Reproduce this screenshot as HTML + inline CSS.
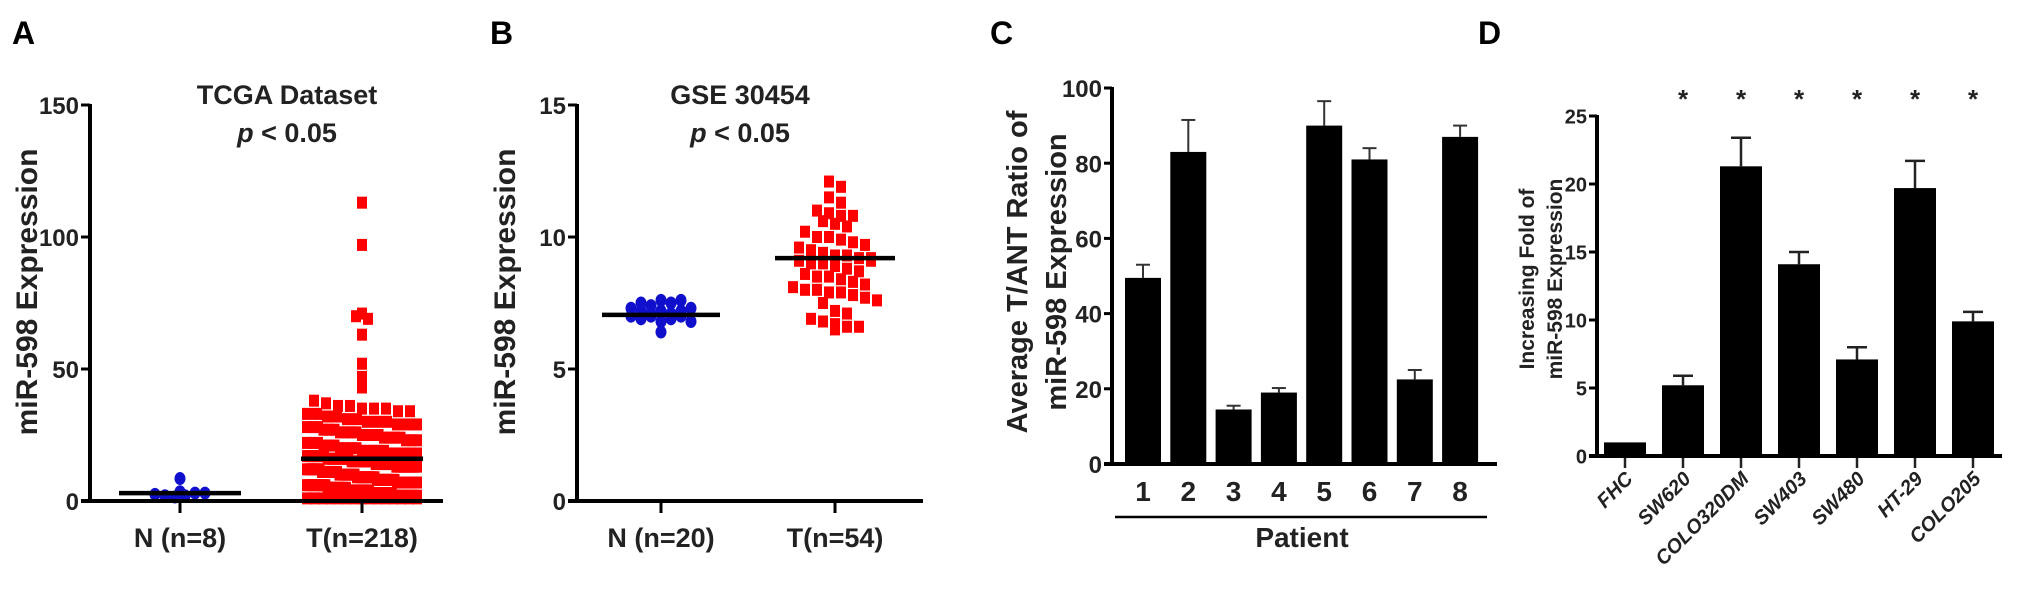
<!DOCTYPE html>
<html><head><meta charset="utf-8"><style>
html,body{margin:0;padding:0;background:#fff;}
svg{display:block;font-family:"Liberation Sans",Arial,sans-serif;font-weight:bold;}
</style></head><body>
<svg id="fig" width="2017" height="614" viewBox="0 0 2017 614" xmlns="http://www.w3.org/2000/svg">
<rect width="2017" height="614" fill="#fff"/>
<text x="12" y="44" font-size="32">A</text>
<text x="490" y="44" font-size="32">B</text>
<text x="990" y="44" font-size="32">C</text>
<text x="1478" y="44" font-size="32">D</text>
<g id="pa"></g>
<g id="pb"></g>
<g id="pc"></g>
<g id="pd"></g>
</svg>
<script>
// Panel A data
const aGroups = ["N (n=8)", "T(n=218)"];
const aNormal = [3.5, 2.5, 2, 1.5, 2, 8.5, 3, 3];
const aTumor = [113,97,70,69,71,63,52,47,43,
 38,37,36,36,35,35,35,34,34,33,33,32,32,31,31,30,
 30,30,29,29,29,28,28,28,27,27,27,26,26,26,26,25,25,25,25,24,24,24,24,23,23,23,22,22,22,21,21,21,20,20,20,20,
 19,19,19,19,19,18,18,18,18,18,18,17,17,17,17,17,17,16,16,16,16,16,16,16,15,15,15,15,15,15,15,14,14,14,14,14,14,13,13,13,13,13,13,13,12,12,12,12,12,12,11,11,11,11,11,11,11,10,10,10,10,10,10,10,
 9,9,9,9,9,9,9,9,8,8,8,8,8,8,8,8,7,7,7,7,7,7,7,7,7,6,6,6,6,6,6,6,6,6,5,5,5,5,5,5,5,5,5,4,4,4,4,4,4,4,4,4,4,3,3,3,3,3,3,3,3,3,3,2,2,2,2,2,2,2,2,2,2,2,1,1,1,1,1,1,1,1,1,1,1,1,1,1,1];
const aMedians = [3, 16];
const aTicks = [0, 50, 100, 150];
// Panel B data
const bGroups = ["N (n=20)", "T(n=54)"];
const bNormal = [7.3,7.2,7.0,6.9,7.1,7.5,7.4,7.6,7.5,7.0,6.8,6.4,7.2,7.6,6.9,7.0,7.1,6.8,7.2,7.3];
const bTumor = [12.1,11.9,11.5,11.3,11.0,10.9,10.8,10.8,10.6,10.5,10.4,10.2,10.0,10.0,9.9,9.8,9.7,9.6,9.5,9.4,9.3,9.3,9.2,9.2,9.1,9.0,9.0,8.9,8.8,8.7,8.6,8.5,8.5,8.4,8.3,8.2,8.1,8.0,8.0,7.9,7.9,7.8,7.7,7.6,7.5,7.2,7.1,6.9,6.8,6.7,6.6,6.6,6.5,9.1];
const bMedians = [7.05, 9.2];
const bTicks = [0, 5, 10, 15];
// Panel C data
const cCats = ["1","2","3","4","5","6","7","8"];
const cVals = [49.5, 83, 14.5, 19, 90, 81, 22.5, 87];
const cErr = [3.5, 8.5, 1, 1.2, 6.5, 3, 2.5, 3];
const cTicks = [0, 20, 40, 60, 80, 100];
// Panel D data
const dCats = ["FHC","SW620","COLO320DM","SW403","SW480","HT-29","COLO205"];
const dVals = [1, 5.2, 21.3, 14.1, 7.1, 19.7, 9.9];
const dErr = [0, 0.7, 2.1, 0.9, 0.9, 2.0, 0.7];
const dStars = [false, true, true, true, true, true, true];
const dTicks = [0, 5, 10, 15, 20, 25];

const NS = "http://www.w3.org/2000/svg";
function mk(parent, tag, attrs, text){
  const e = document.createElementNS(NS, tag);
  for (const k in attrs) e.setAttribute(k, attrs[k]);
  if (text !== undefined) e.textContent = text;
  parent.appendChild(e);
  return e;
}
function linY(d0,d1,r0,r1){return v => r0 + (v-d0)/(d1-d0)*(r1-r0);}

function axes(g, x0, x1, yTop, yBot, ticks, scale, fs, tickLen){
  let e = mk(g,'line',{x1:x0,y1:yTop-1,x2:x0,y2:yBot,stroke:'#000','stroke-width':4});
   
  e = mk(g,'line',{x1:x0-tickLen,y1:yBot,x2:x1,y2:yBot,stroke:'#000','stroke-width':4});
   
  ticks.forEach(t=>{
    const y = scale(t);
    let l = mk(g,'line',{x1:x0-tickLen,y1:y,x2:x0,y2:y,stroke:'#000','stroke-width':3});
     
    let tx = mk(g,'text',{x:x0-tickLen-2,y:y+fs*0.38,'font-size':fs,'text-anchor':'end',fill:'#222'}, String(t));
     
  });
}

function swarm(g, vals, cx, scale, cell, cellW, maxW, shape, color){
  const bins = {};
  vals.forEach(v=>{ const b = Math.round((scale(v))/cell); (bins[b]=bins[b]||[]).push(v); });
  for (const b in bins){
    const arr = bins[b]; const n = arr.length;
    const step = Math.min(cellW, n>1 ? maxW/(n-1) : cellW);
    arr.forEach((v,i)=>{
      const x = cx + (i-(n-1)/2)*step;
      const y = scale(v);
      let m;
      if (shape==='sq') m = mk(g,'rect',{x:x-5,y:y-6,width:10,height:12,fill:color});
      else m = mk(g,'ellipse',{cx:x,cy:y,rx:5.5,ry:6.5,fill:color});
       
    });
  }
}

function scatterPanel(id, x0, x1, groups, gx, nVals, tVals, medians, medW, ticks, ymax, title, titleX, ylabX, nMax, tMax, cellN, cellT){
  const g = document.getElementById(id);
  const yTop=105, yBot=501;
  const s = linY(0,ymax,yBot,yTop);
  let t = mk(g,'text',{x:titleX,y:104,'font-size':27,'text-anchor':'middle',fill:'#222'},title);
   
  t = mk(g,'text',{x:titleX,y:142,'font-size':27,'text-anchor':'middle',fill:'#222'});
   
  mk(t,'tspan',{'font-style':'italic'},'p'); mk(t,'tspan',{},' < 0.05');
  t = mk(g,'text',{'font-size':30,'text-anchor':'middle',fill:'#222',transform:`translate(${ylabX} 292) rotate(-90)`},'miR-598 Expression');
   
  swarm(g, nVals, gx[0], s, cellN, 10, nMax, 'ci', '#1010cc');
  swarm(g, tVals, gx[1], s, cellT, 12, tMax, 'sq', '#ff0000');
  axes(g, x0, x1, yTop, yBot, ticks, s, 24, 9);
  gx.forEach((x,i)=>{
    let l = mk(g,'line',{x1:x,y1:yBot,x2:x,y2:yBot+12,stroke:'#000','stroke-width':3});
     
    let tx = mk(g,'text',{x:x,y:547,'font-size':27,'text-anchor':'middle',fill:'#222'},groups[i]);
     
    let m = mk(g,'line',{x1:x-medW[i],y1:s(medians[i]),x2:x+medW[i],y2:s(medians[i]),stroke:'#000','stroke-width':4.5});
     
  });
}
scatterPanel('pa', 90, 443, aGroups, [180,362], aNormal, aTumor, aMedians, [61,61], aTicks, 150, 'TCGA Dataset', 287, 37, 90, 110, 8, 14);
scatterPanel('pb', 577, 923, bGroups, [661,835], bNormal, bTumor, bMedians, [59,60], bTicks, 15, 'GSE 30454', 740, 515, 95, 88, 8, 14);

// Panel C
(function(){
  const g = document.getElementById('pc');
  const x0=1112, x1=1497, yTop=88, yBot=464;
  const s = linY(0,100,yBot,yTop);
  const bx = i => 1143 + i*45.3;
  cVals.forEach((v,i)=>{
    const x = bx(i);
    let e = mk(g,'line',{x1:x,y1:s(v),x2:x,y2:s(v+cErr[i]),stroke:'#333','stroke-width':2});
     
    e = mk(g,'line',{x1:x-7,y1:s(v+cErr[i]),x2:x+7,y2:s(v+cErr[i]),stroke:'#333','stroke-width':2});
     
    let b = mk(g,'rect',{x:x-18,y:s(v),width:36,height:yBot-s(v),fill:'#000'});
     
    let t = mk(g,'text',{x:x,y:501,'font-size':28,'text-anchor':'middle',fill:'#222'},cCats[i]);
     
  });
  axes(g, x0, x1, yTop, yBot, cTicks, s, 24, 8);
  let l = mk(g,'line',{x1:1115,y1:517,x2:1487,y2:517,stroke:'#000','stroke-width':2.5});
   
  let t = mk(g,'text',{x:1302,y:547,'font-size':28,'text-anchor':'middle',fill:'#222'},'Patient');
   
  t = mk(g,'text',{'font-size':29,'text-anchor':'middle',fill:'#222',transform:'translate(1027 272) rotate(-90)'},'Average T/ANT Ratio of');
   
  t = mk(g,'text',{'font-size':29,'text-anchor':'middle',fill:'#222',transform:'translate(1066 272) rotate(-90)'},'miR-598 Expression');
   
})();

// Panel D
(function(){
  const g = document.getElementById('pd');
  const x0=1597, x1=2002, yTop=116, yBot=456;
  const s = linY(0,25,yBot,yTop);
  const bx = i => 1625 + i*58;
  dVals.forEach((v,i)=>{
    const x = bx(i);
    if (dErr[i]>0){
      let e = mk(g,'line',{x1:x,y1:s(v),x2:x,y2:s(v+dErr[i]),stroke:'#222','stroke-width':2.5});
       
      e = mk(g,'line',{x1:x-10,y1:s(v+dErr[i]),x2:x+10,y2:s(v+dErr[i]),stroke:'#222','stroke-width':2.5});
       
    }
    let b = mk(g,'rect',{x:x-21,y:s(v),width:42,height:yBot-s(v),fill:'#000'});
     
    let tk = mk(g,'line',{x1:x,y1:yBot,x2:x,y2:yBot+12,stroke:'#222','stroke-width':2.5});
     
    let t = mk(g,'text',{'font-size':20,'font-style':'italic','text-anchor':'end',fill:'#222',transform:`translate(${x+9} 480) rotate(-45)`},dCats[i]);
     
    if (dStars[i]){
      let st = mk(g,'text',{x:x,y:108,'font-size':26,'text-anchor':'middle',fill:'#222'},'*');
       
    }
  });
  axes(g, x0, x1, yTop, yBot, dTicks, s, 20, 8);
  let t = mk(g,'text',{'font-size':21,'text-anchor':'middle',fill:'#222',transform:'translate(1534 279) rotate(-90)'},'Increasing Fold of');
   
  t = mk(g,'text',{'font-size':21,'text-anchor':'middle',fill:'#222',transform:'translate(1562 279) rotate(-90)'},'miR-598 Expression');
   
})();
</script>
</body></html>
